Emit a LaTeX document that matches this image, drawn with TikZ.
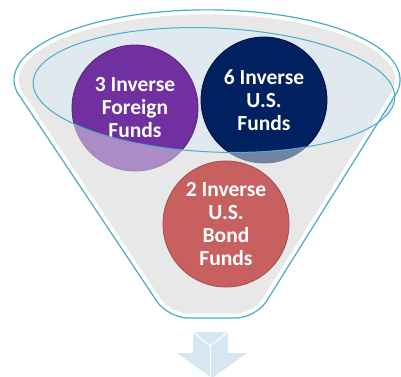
\documentclass[tikz,border=0pt]{standalone}
\usepackage{fontspec}
\setmainfont{Carlito}
\usetikzlibrary{positioning}

\definecolor{rimcyan}{RGB}{75,172,198}
\definecolor{funnelgray}{RGB}{232,232,232}
\definecolor{openblue}{RGB}{225,233,240}
\definecolor{fundpurple}{RGB}{112,48,160}
\definecolor{fundnavy}{RGB}{0,32,96}
\definecolor{fundred}{RGB}{200,96,96}
\definecolor{arrowblue}{RGB}{214,231,242}

% Contours de l'entonnoir
\def\funnelbody{(17,92) arc[start angle=170, end angle=370, x radius=193, y radius=70] {[rounded corners=20] -- (256,318) -- (168,318)} -- cycle}
\def\funnelmouth{(214,90) ellipse [x radius=181, y radius=62, rotate=-2.5]}

\begin{document}
\begin{tikzpicture}[x=1pt, y=-1pt,
    fund/.style={circle, minimum size=126pt, inner sep=0pt, text=white, font=\fontsize{21.5}{23}\selectfont\bfseries, align=center, line width=0.8pt},
    rim/.style={draw=rimcyan, line width=1.2pt}
]
\useasboundingbox (0,0) rectangle (401,376);

% Corps
\fill[funnelgray] \funnelbody;
\fill[openblue] \funnelmouth;

% Fonds du haut
\node[fund, fill=fundpurple, draw=fundpurple!75!black] (foreign) at (135,108) {3 Inverse\\Foreign\\Funds};
\node[fund, fill=fundnavy, draw=fundnavy!60!black] (us) at (264,100) {6 Inverse\\U.S.\\Funds};

% Paroi avant
\begin{scope}
    \clip \funnelbody;
    \fill[funnelgray, fill opacity=0.5, even odd rule] \funnelbody \funnelmouth;
    \draw[white, line width=9pt] \funnelbody;
\end{scope}
\draw[rim] \funnelbody;
\draw[rim, line width=1pt] \funnelmouth;

% Fonds du bas
\node[fund, fill=fundred, draw=fundred!80!black] (bond) at (226,224) {2 Inverse\\U.S.\\Bond\\Funds};

% Fleche
\fill[arrowblue] (193,332) -- (228,332) -- (228,353) -- (247,353) -- (212,378) -- (177,353) -- (193,353) -- cycle;
\draw[white, line width=1pt] (193,332) -- (210,346) -- (228,332);
\draw[white, line width=1pt] (210,346) -- (210,378);

\end{tikzpicture}
\end{document}
